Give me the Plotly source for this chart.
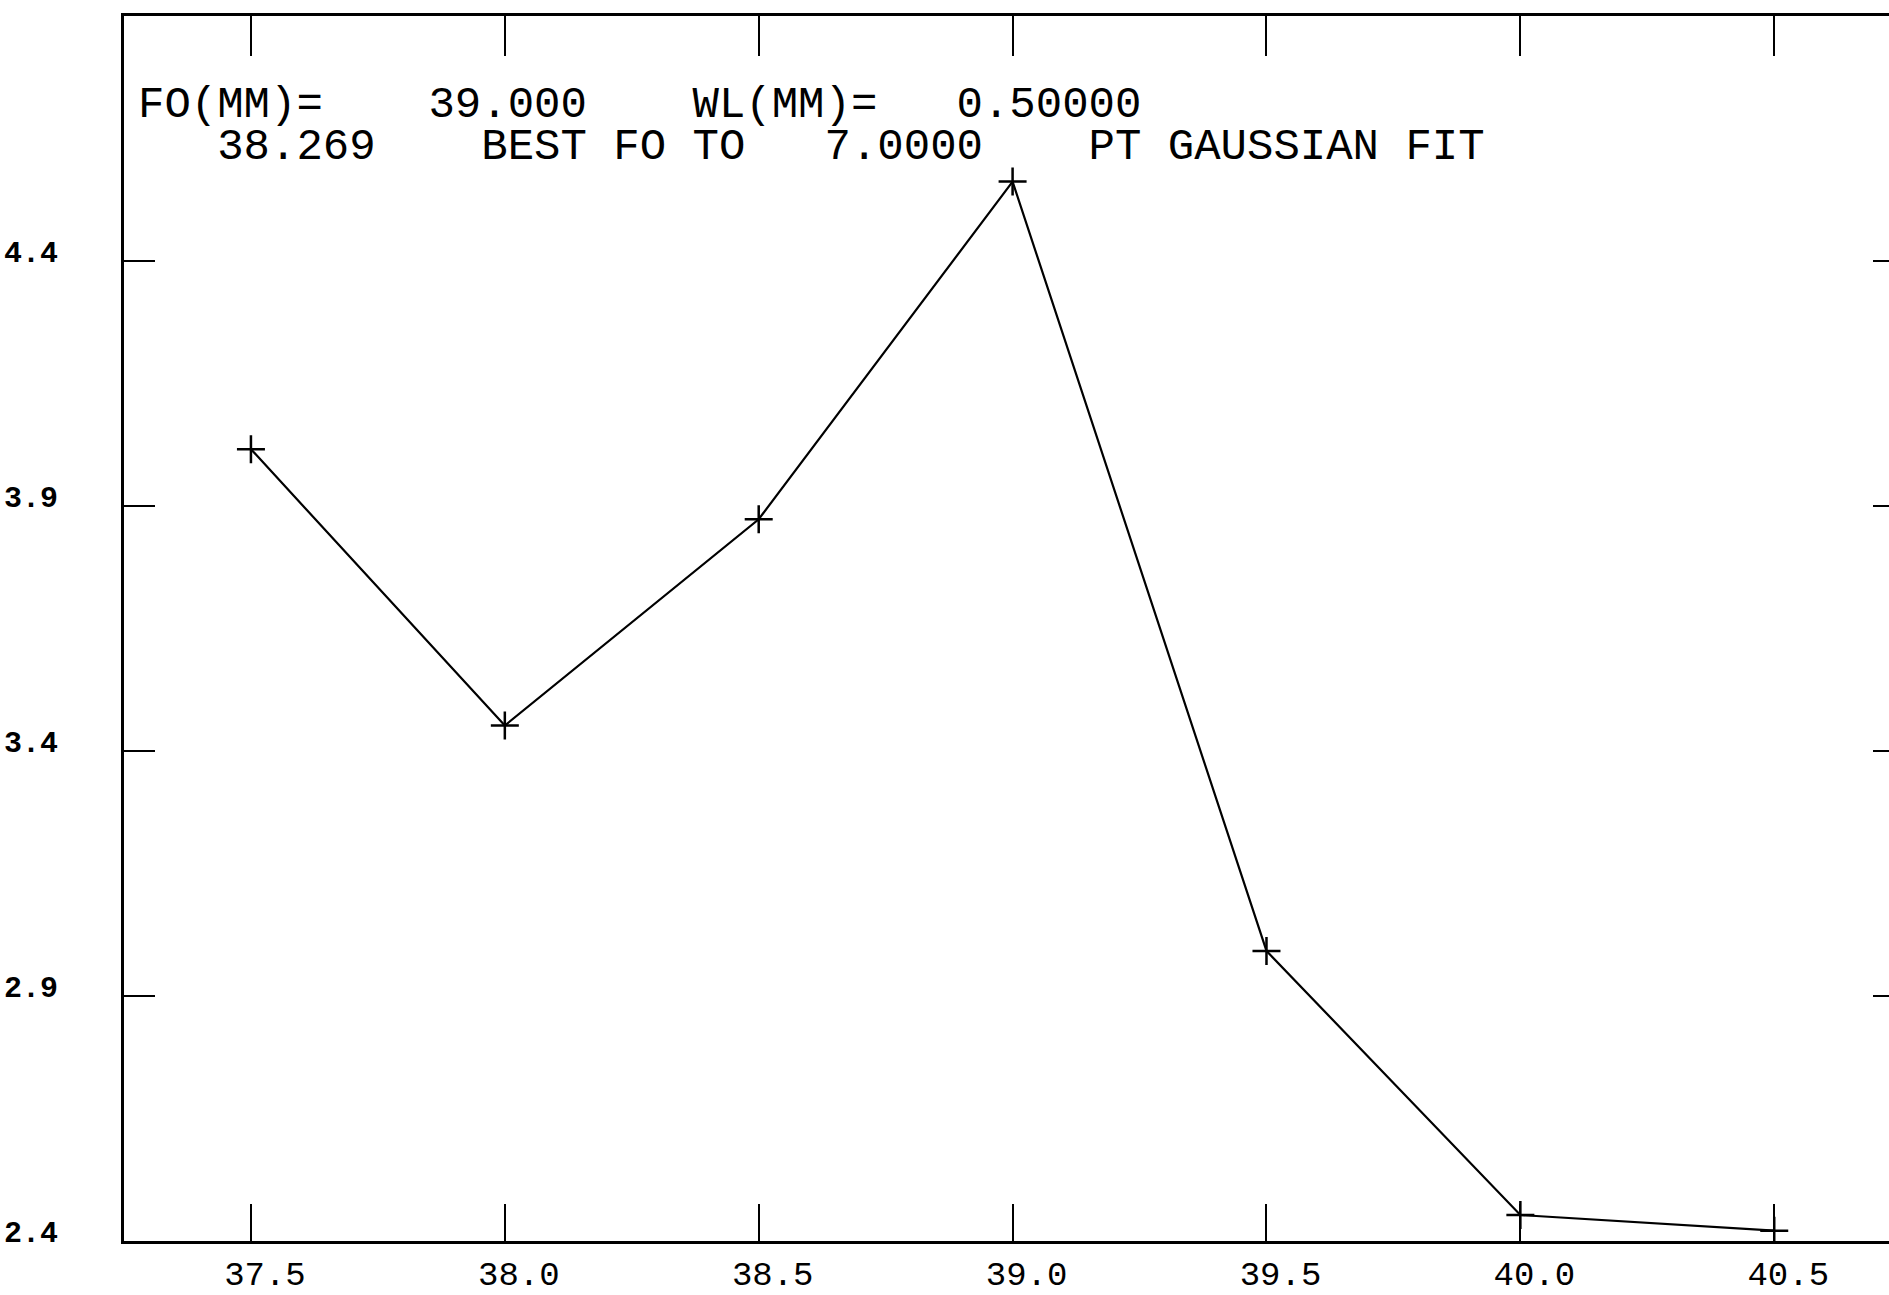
import plotly.graph_objects as go

# Data
focus_mm = [37.5, 38.0, 38.5, 39.0, 39.5, 40.0, 40.5]
signal = [4.016, 3.452, 3.873, 4.562, 2.992, 2.453, 2.421]

x_ticks = [37.5, 38.0, 38.5, 39.0, 39.5, 40.0, 40.5]
x_tick_labels = ["37.5", "38.0", "38.5", "39.0", "39.5", "40.0", "40.5"]
y_ticks = [2.4, 2.9, 3.4, 3.9, 4.4]
y_tick_labels = ["2.4", "2.9", "3.4", "3.9", "4.4"]

header_line1 = "FO(MM)=    39.000    WL(MM)=   0.50000"
header_line2 = "   38.269    BEST FO TO   7.0000    PT GAUSSIAN FIT"

x_range = [37.25, 40.726]
y_range = [2.4, 4.9]

MONO = "Courier New, Liberation Mono, monospace"

fig = go.Figure()
fig.add_trace(go.Scatter(
    x=focus_mm, y=signal, mode="lines+markers",
    line=dict(color="black", width=2.2),
    marker=dict(symbol="cross-thin", size=20, line=dict(color="black", width=2.5)),
    showlegend=False, hoverinfo="skip",
))
# invisible trace to anchor the top / right mirror axes
fig.add_trace(go.Scatter(x=[x_range[0]], y=[y_range[0]], xaxis="x2", yaxis="y2",
                         mode="markers", marker=dict(opacity=0), showlegend=False,
                         hoverinfo="skip"))

fig.update_layout(
    width=1889, height=1295,
    margin=dict(l=124, r=0, t=16, b=43),
    paper_bgcolor="white", plot_bgcolor="white",
    xaxis=dict(range=x_range, tickvals=x_ticks, ticktext=x_tick_labels,
               ticks="inside", ticklen=37, tickwidth=2, tickcolor="black",
               showline=True, linewidth=3, linecolor="black",
               showgrid=False, zeroline=False,
               tickfont=dict(family=MONO, size=34, color="black"),
               ticklabelshift=14, ticklabelstandoff=0),
    yaxis=dict(range=y_range, tickvals=y_ticks, ticktext=y_tick_labels,
               ticks="inside", ticklen=31, tickwidth=2, tickcolor="black",
               showline=True, linewidth=3, linecolor="black",
               showgrid=False, zeroline=False,
               tickfont=dict(family=MONO, size=30, color="black", weight="bold"),
               ticklabelshift=-10, ticklabelstandoff=57),
    xaxis2=dict(range=x_range, overlaying="x", side="top", anchor="y2",
                tickvals=x_ticks, showticklabels=False,
                ticks="inside", ticklen=40, tickwidth=2, tickcolor="black",
                showline=True, linewidth=3, linecolor="black",
                showgrid=False, zeroline=False),
    yaxis2=dict(range=y_range, overlaying="y", side="right", anchor="x2",
                tickvals=y_ticks, showticklabels=False,
                ticks="inside", ticklen=16, tickwidth=2, tickcolor="black",
                showline=False, showgrid=False, zeroline=False),
)

fig.add_annotation(xref="paper", yref="paper", x=0.0068, y=0.927,
                   xanchor="left", yanchor="middle", showarrow=False,
                   text=header_line1.replace(" ", "&nbsp;"),
                   font=dict(family=MONO, size=44, color="black"))
fig.add_annotation(xref="paper", yref="paper", x=0.0068, y=0.893,
                   xanchor="left", yanchor="middle", showarrow=False,
                   text=header_line2.replace(" ", "&nbsp;"),
                   font=dict(family=MONO, size=44, color="black"))

page_fix = ("document.documentElement.style.margin='0';"
            "document.body.style.margin='0';document.body.style.padding='0';"
            "document.documentElement.style.overflow='hidden';"
            "document.body.style.overflow='hidden';")

fig.write_html("out.html", post_script=page_fix,
               config={"displayModeBar": False, "staticPlot": True})
